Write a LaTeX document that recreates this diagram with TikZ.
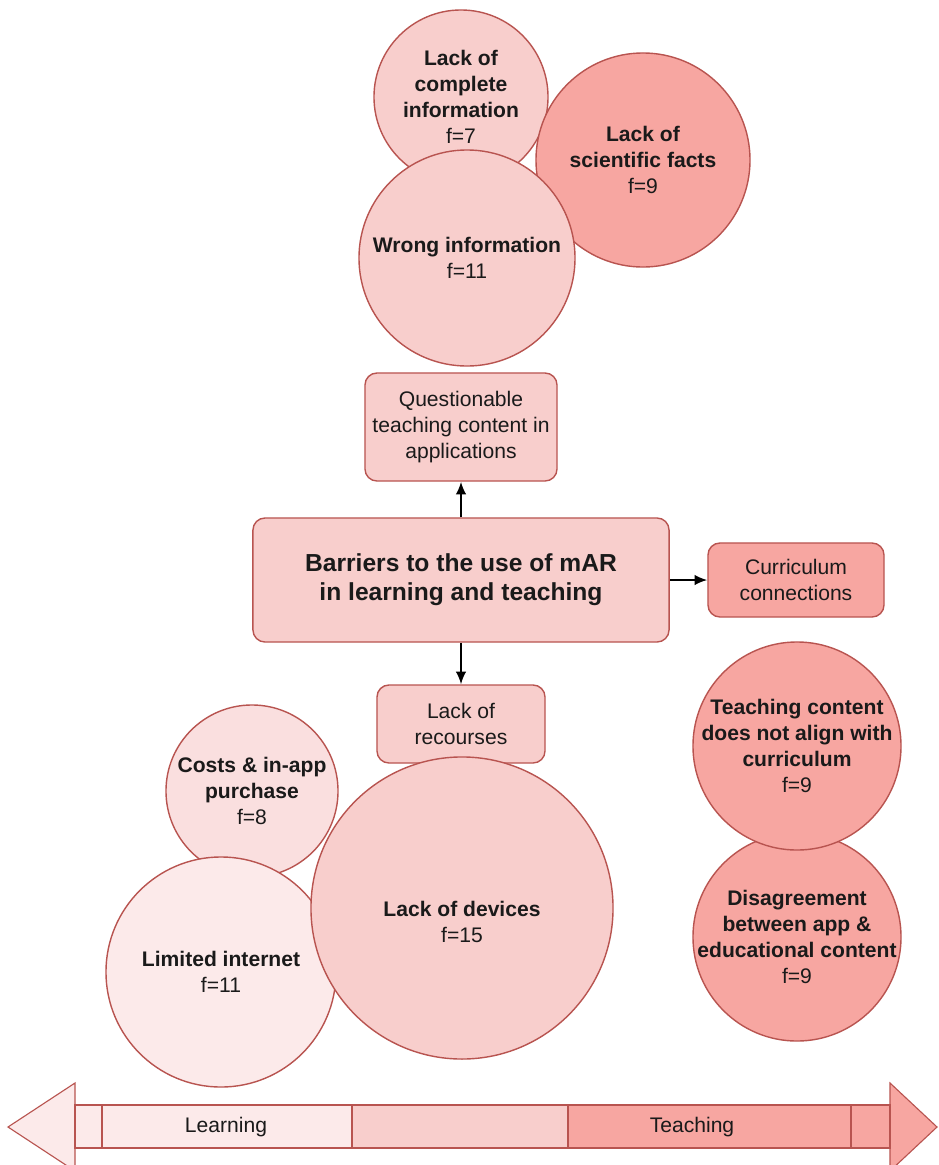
\documentclass[tikz,border=0pt]{standalone}
\usepackage{fontspec}
\setmainfont{Liberation Sans}
\usetikzlibrary{calc,arrows.meta}

\definecolor{redline}{HTML}{B85450}
\definecolor{paleRed}{HTML}{FCEAEA}
\definecolor{softRed}{HTML}{FADFDF}
\definecolor{lightRed}{HTML}{F8CECC}
\definecolor{deepRed}{HTML}{F7A6A1}
\definecolor{inkText}{HTML}{1A1A1A}

\tikzset{
	bub/.style={circle, draw=redline, line width=1pt, inner sep=0pt},
	bubtext/.style={align=center, text=inkText, font=\fontsize{15}{18.5}\selectfont},
	barbox/.style={rectangle, rounded corners=0.3cm, draw=redline, line width=1pt, align=center, text=inkText, font=\fontsize{15}{18.5}\selectfont},
	link/.style={line width=1.4pt, -{Latex[length=9pt, width=7.5pt]}},
	band/.style={draw=redline, line width=0.8pt},
}
\def\bubble(#1)[#2](#3:#4)#5{\node[bub, fill=#2, minimum size=#4cm] (#1) at (#3) {}; \node[bubtext] (#1-txt) at (#1) {#5};}

\begin{document}
\begin{tikzpicture}[x=0.025cm, y=-0.025cm]
			%%%%% START %%%%%
			\useasboundingbox (0, 0) rectangle (939, 1165);
			
			% bubbles above
			\bubble(complete)[lightRed](461, 97:4.35){\textbf{Lack of}\\\textbf{complete}\\\textbf{information}\\f=7}
			\bubble(science)[deepRed](643, 160:5.35){\textbf{Lack of}\\\textbf{scientific facts}\\f=9}
			\bubble(wrong)[lightRed](467, 258:5.4){\textbf{Wrong information}\\f=11}
			
			% boxes
			\node[barbox, fill=lightRed, minimum width=4.8cm, minimum height=2.7cm] (quest) at (461, 427) {Questionable\\teaching content in\\applications};
			\node[barbox, fill=lightRed, minimum width=10.4cm, minimum height=3.1cm, font=\bfseries\fontsize{17.5}{20.5}\selectfont] (barrier) at (461, 580) {Barriers to the use of mAR\\in learning and teaching};
			\node[barbox, fill=deepRed, minimum width=4.4cm, minimum height=1.85cm] (curric) at (796, 580) {Curriculum\\connections};
			\node[barbox, fill=lightRed, minimum width=4.2cm, minimum height=1.95cm] (recourse) at (461, 724) {Lack of\\recourses};
			
			\draw[link] (barrier.north) -- (quest.south);
			\draw[link] (barrier.east) -- (curric.west);
			\draw[link] (barrier.south) -- (recourse.north);
			
			% bubbles below
			\bubble(cost)[softRed](252, 791:4.3){\textbf{Costs \& in-app}\\\textbf{purchase}\\f=8}
			\bubble(internet)[paleRed](221, 972:5.75){\textbf{Limited internet}\\f=11}
			\node[bub, fill=lightRed, minimum size=7.55cm] (devices) at (462, 908) {};
			\node[bubtext] (devices-txt) at (462, 922) {\textbf{Lack of devices}\\f=15};
			
			\bubble(disagree)[deepRed](797, 937:5.2){\textbf{Disagreement}\\\textbf{between app \&}\\\textbf{educational content}\\f=9}
			\bubble(align)[deepRed](797, 746:5.2){\textbf{Teaching content}\\\textbf{does not align with}\\\textbf{curriculum}\\f=9}
			
			% learning - teaching scale
			\draw[band, fill=paleRed] (75, 1083) -- (8, 1127) -- (75, 1171) -- cycle;
			\draw[band, fill=deepRed] (890, 1083) -- (937, 1127) -- (890, 1171) -- cycle;
			\draw[band, fill=paleRed] (75, 1105) rectangle (102, 1148);
			\draw[band, fill=paleRed] (102, 1105) rectangle (352, 1148);
			\draw[band, fill=lightRed] (352, 1105) rectangle (568, 1148);
			\draw[band, fill=deepRed] (568, 1105) rectangle (851, 1148);
			\draw[band, fill=deepRed] (851, 1105) rectangle (890, 1148);
			\node[text=inkText, font=\fontsize{15}{18}\selectfont] (learn) at (226, 1127) {Learning};
			\node[text=inkText, font=\fontsize{15}{18}\selectfont] (teach) at (692, 1127) {Teaching};
			
			%%%%% END %%%%%
\end{tikzpicture}
\end{document}
